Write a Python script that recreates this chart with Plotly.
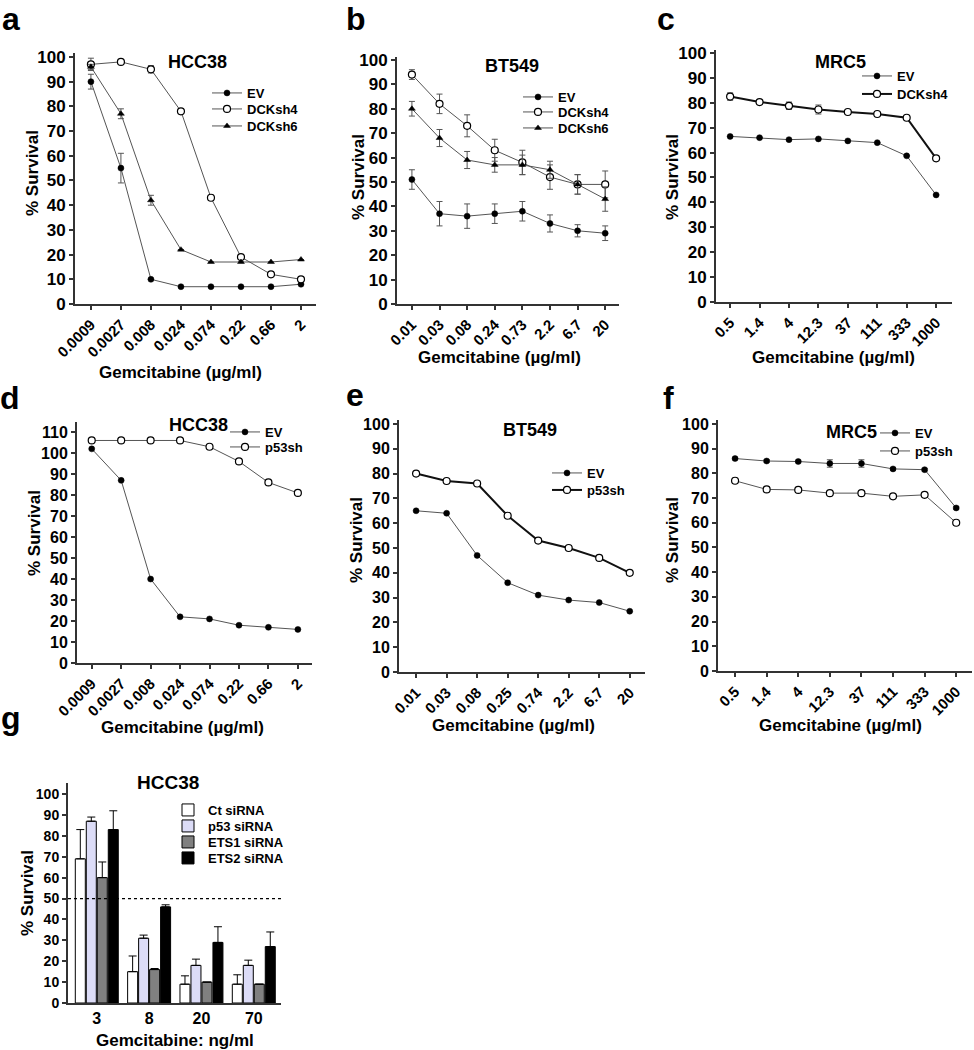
import plotly.graph_objects as go

FONT = "Liberation Sans, Arial, Helvetica, sans-serif"
W, H = 974, 1050

# ---------------- data ----------------
# panel a (HCC38, DCK shRNA)
a_x = ["0.0009", "0.0027", "0.008", "0.024", "0.074", "0.22", "0.66", "2"]
a_ev = [90, 55, 10, 7, 7, 7, 7, 8]
a_ev_err = [3, 6, 0, 0, 0, 0, 0, 0]
a_sh4 = [97, 98, 95, 78, 43, 19, 12, 10]
a_sh4_err = [2.5, 0.5, 1.5, 1, 1, 1, 0.5, 1]
a_sh6 = [96, 77, 42, 22, 17, 17, 17, 18]
a_sh6_err = [1, 2, 2, 0, 0, 0, 0, 0]

# panel b (BT549, DCK shRNA)
b_x = ["0.01", "0.03", "0.08", "0.24", "0.73", "2.2", "6.7", "20"]
b_ev = [51, 37, 36, 37, 38, 33, 30, 29]
b_ev_err = [4, 5, 5, 4, 4, 3.5, 2.5, 3]
b_sh4 = [94, 82, 73, 63, 58, 52, 49, 49]
b_sh4_err = [2, 4, 4.5, 4.5, 5, 5, 4, 5.5]
b_sh6 = [80, 68, 59, 57, 57, 55, 49, 43]
b_sh6_err = [3, 3.5, 3.5, 3, 4, 3.5, 4, 5]

# panel c (MRC5, DCK shRNA)
c_x = ["0.5", "1.4", "4", "12.3", "37", "111", "333", "1000"]
c_ev = [66.5, 66, 65.2, 65.5, 64.7, 64, 58.7, 43]
c_ev_err = [0, 0, 0, 0, 0, 0, 0, 0]
c_sh4 = [82.5, 80.3, 78.8, 77.3, 76.3, 75.5, 74, 57.7]
c_sh4_err = [1.5, 0.5, 1.5, 1.8, 0.5, 0.5, 0.5, 0.5]

# panel d (HCC38, p53 shRNA)
d_x = ["0.0009", "0.0027", "0.008", "0.024", "0.074", "0.22", "0.66", "2"]
d_ev = [102, 87, 40, 22, 21, 18, 17, 16]
d_p53 = [106, 106, 106, 106, 103, 96, 86, 81]

# panel e (BT549, p53 shRNA)
e_x = ["0.01", "0.03", "0.08", "0.25", "0.74", "2.2", "6.7", "20"]
e_ev = [65, 64, 47, 36, 31, 29, 28, 24.5]
e_p53 = [80, 77, 76, 63, 53, 50, 46, 40]

# panel f (MRC5, p53 shRNA)
f_x = ["0.5", "1.4", "4", "12.3", "37", "111", "333", "1000"]
f_ev = [86, 85, 84.8, 84, 84, 81.8, 81.5, 66]
f_ev_err = [0.5, 0.5, 0.5, 1.5, 1.5, 0.5, 0.5, 0.5]
f_p53 = [77, 73.5, 73.3, 72, 72, 70.7, 71.3, 60]
f_p53_err = [1, 1, 1, 0.5, 0.5, 0.5, 0.5, 0.5]

# panel g (HCC38, siRNA bars)
g_x = ["3", "8", "20", "70"]
g_ct = [69, 15, 9, 9]
g_ct_err = [14, 7.5, 4, 4.5]
g_p53 = [87, 31, 18, 18]
g_p53_err = [2, 1.5, 3, 2.5]
g_ets1 = [60, 16, 10, 9]
g_ets1_err = [7.5, 0.5, 0, 0]
g_ets2 = [83, 46, 29, 27]
g_ets2_err = [9, 1, 7.5, 7]


def X(px):
    return px / W


def Y(py):
    return 1 - py / H


def clean(err):
    return [e if e > 0 else None for e in err]


fig = go.Figure()
legend_layouts = {}
counter = [1]


def new_legend(text_x, text_y):
    counter[0] += 1
    key = "legend%d" % counter[0]
    legend_layouts[key] = dict(
        x=X(text_x - 38), y=Y(text_y), xanchor="left", yanchor="middle",
        xref="paper", yref="paper",
        bgcolor="rgba(0,0,0,0)", borderwidth=0, visible=True,
        font=dict(family=FONT, size=13, color="black", weight="bold"),
    )
    return key


def add_line(x, y, err, name, symbol, ax, legpos, lw=1.0, lc="#555"):
    n = "" if ax == 1 else str(ax)
    hollow = symbol == "hollow"
    tr = go.Scatter(
        x=x, y=y, name=name, mode="lines+markers", showlegend=True,
        xaxis="x" + n, yaxis="y" + n,
        line=dict(color=lc, width=lw),
        marker=dict(symbol="circle" if hollow else symbol,
                    size=7 if hollow else 6,
                    color="white" if hollow else "black",
                    line=dict(color="black", width=1.2 if hollow else 0.5)),
        legend=new_legend(*legpos),
        cliponaxis=False,
    )
    if err is not None:
        tr.error_y = dict(type="data", array=clean(err), color="#555",
                          thickness=1, width=3)
    fig.add_trace(tr)


# panel a
add_line(a_x, a_ev, a_ev_err, "EV", "circle", 1, (245, 93))
add_line(a_x, a_sh4, a_sh4_err, "DCKsh4", "hollow", 1, (245, 109))
add_line(a_x, a_sh6, a_sh6_err, "DCKsh6", "triangle-up", 1, (245, 126))
# panel b
add_line(b_x, b_ev, b_ev_err, "EV", "circle", 2, (556, 97))
add_line(b_x, b_sh4, b_sh4_err, "DCKsh4", "hollow", 2, (556, 112))
add_line(b_x, b_sh6, b_sh6_err, "DCKsh6", "triangle-up", 2, (556, 128))
# panel c
add_line(c_x, c_ev, c_ev_err, "EV", "circle", 3, (895, 76))
add_line(c_x, c_sh4, c_sh4_err, "DCKsh4", "hollow", 3, (895, 94),
         lw=2, lc="#111")
# panel d
add_line(d_x, d_ev, None, "EV", "circle", 4, (263, 432))
add_line(d_x, d_p53, None, "p53sh", "hollow", 4, (263, 447))
# panel e
add_line(e_x, e_ev, None, "EV", "circle", 5, (585, 473))
add_line(e_x, e_p53, None, "p53sh", "hollow", 5, (585, 490),
         lw=2, lc="#111")
# panel f
add_line(f_x, f_ev, f_ev_err, "EV", "circle", 6, (913, 433))
add_line(f_x, f_p53, f_p53_err, "p53sh", "hollow", 6, (913, 451))

# panel g bars
bar_specs = [
    ("Ct siRNA", g_ct, g_ct_err, "white", 810),
    ("p53 siRNA", g_p53, g_p53_err, "#dcdcf7", 826),
    ("ETS1 siRNA", g_ets1, g_ets1_err, "#808080", 842),
    ("ETS2 siRNA", g_ets2, g_ets2_err, "black", 858),
]
for name, vals, err, col, ly in bar_specs:
    fig.add_trace(go.Bar(
        x=g_x, y=vals, name=name, xaxis="x7", yaxis="y7", showlegend=True,
        marker=dict(color=col, line=dict(color="black", width=1)),
        error_y=dict(type="data", symmetric=False, array=clean(err),
                     arrayminus=[0] * len(err), color="black",
                     thickness=1, width=4),
        legend=new_legend(206, ly),
    ))

# ---------------- axes ----------------
axis_col = "#333"


def xaxis(dom, rng, tickangle=-45, size=15, ticks="outside"):
    return dict(domain=[X(dom[0]), X(dom[1])], type="category",
                range=rng, showline=True, linecolor=axis_col, linewidth=2,
                ticks=ticks, ticklen=4, tickwidth=1.5, tickcolor=axis_col,
                tickangle=tickangle, showgrid=False, zeroline=False,
                automargin=False,
                tickfont=dict(family=FONT, size=size, color="black",
                              weight="bold"),
                fixedrange=True)


def yaxis(dom, rng, xanchor, top=100, size=17):
    return dict(domain=[Y(dom[1]), Y(dom[0])], range=rng,
                tickmode="array", tickvals=list(range(0, top + 1, 10)),
                showline=True, linecolor=axis_col, linewidth=2,
                ticks="outside", ticklen=4, tickwidth=1.5, tickcolor=axis_col,
                showgrid=False, zeroline=False, anchor=xanchor,
                automargin=False,
                tickfont=dict(family=FONT, size=size, color="black",
                              weight="bold"),
                fixedrange=True)


layout = dict(
    template="none",
    width=W, height=H, autosize=False,
    margin=dict(l=0, r=0, t=0, b=0, pad=0),
    paper_bgcolor="white", plot_bgcolor="white",
    showlegend=True,
    barmode="group", bargap=0.16, bargroupgap=0.09,
    xaxis=xaxis((75, 316), [-0.53, 7.5]),
    yaxis=yaxis((53, 304), [0, 101.6], "x", size=17),
    xaxis2=xaxis((397, 619), [-0.54, 7.5]),
    yaxis2=yaxis((57, 304), [0, 101.2], "x2", size=17),
    xaxis3=xaxis((716, 952), [-0.48, 7.54]),
    yaxis3=yaxis((50, 302), [0, 101.2], "x3", size=17),
    xaxis4=xaxis((77, 312), [-0.5, 7.48]),
    yaxis4=yaxis((422, 663), [0, 114.8], "x4", top=110, size=16),
    xaxis5=xaxis((399, 645), [-0.56, 7.5]),
    yaxis5=yaxis((420, 672), [0, 101.6], "x5", size=16),
    xaxis6=xaxis((718, 972), [-0.54, 7.5]),
    yaxis6=yaxis((420, 671), [0, 101.6], "x6", size=16),
    xaxis7=xaxis((68, 281), [-0.55, 3.52], tickangle=0, size=16, ticks=""),
    yaxis7=yaxis((783, 1003), [0, 105.3], "x7", size=14),
)
for ax in ["xaxis", "xaxis2", "xaxis3", "xaxis4", "xaxis5", "xaxis6", "xaxis7"]:
    n = ax[5:]
    layout[ax]["anchor"] = "y" + n
layout.update(legend_layouts)
fig.update_layout(**layout)

# dashed 50% line in panel g
fig.add_shape(type="line", xref="x7 domain", yref="y7", x0=0, x1=1,
              y0=50, y1=50, layer="above",
              line=dict(color="black", width=1.2, dash="dot"))


# ---------------- text ----------------
def ann(text, x, y, size, angle=0, xanchor="center", yanchor="middle"):
    fig.add_annotation(text=text, x=X(x), y=Y(y), xref="paper", yref="paper",
                       showarrow=False, textangle=angle, xanchor=xanchor,
                       yanchor=yanchor, borderpad=0,
                       font=dict(family=FONT, size=size, color="black",
                                 weight="bold"))


# panel letters
for letter, lx, ly in [("a", 11, 0), ("b", 356, 0), ("c", 666, 0)]:
    ann(letter, lx, ly, 32, yanchor="top")
for letter, lx, ly in [("d", 10, 398), ("e", 355, 395), ("f", 668, 398),
                       ("g", 11, 718)]:
    ann(letter, lx, ly, 32)

# panel titles
for t, tx, ty, s in [("HCC38", 197, 62, 18), ("BT549", 512, 66, 18),
                     ("MRC5", 840, 62, 18), ("HCC38", 198, 425, 18),
                     ("BT549", 530, 430, 18), ("MRC5", 851, 432, 18),
                     ("HCC38", 168, 782, 19)]:
    ann(t, tx, ty, s)

# y titles
for tx, ty in [(32, 173), (358, 177), (672, 177), (34, 533), (356, 540),
               (672, 540), (27, 893)]:
    ann("% Survival", tx, ty, 17, angle=-90)

# x titles
for tx, ty in [(180, 372), (500, 358), (833, 358), (182, 727), (513, 725),
               (840, 725)]:
    ann("Gemcitabine (µg/ml)", tx, ty, 17)
ann("Gemcitabine: ng/ml", 175, 1040, 17)

fig.write_html(
    "out.html",
    config={"displayModeBar": False},
    post_script="document.body.style.margin='0px';"
                "document.body.style.padding='0px';"
                "document.documentElement.style.overflow='hidden';",
)
